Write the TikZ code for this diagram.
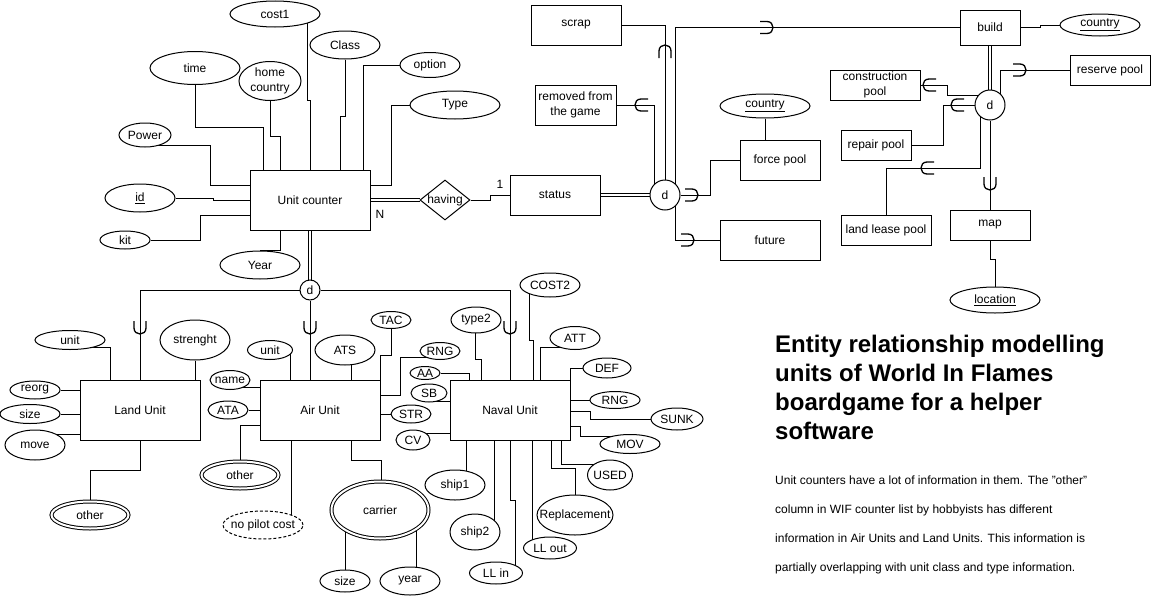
\documentclass[tikz,border=0pt]{standalone}
\usepackage{fontspec}
\setmainfont{Liberation Sans}
\usetikzlibrary{shapes.geometric}
\pgfdeclarelayer{bg}
\pgfsetlayers{bg,main}
\newcommand\lblfont{\fontsize{12}{14.5}\selectfont}
\newcommand\ttlfont{\fontsize{24}{29}\selectfont\bfseries}
\newcommand\bdyfont{\fontsize{12}{14}\selectfont}
\newcommand\attrnode[7][]{%
  \node[attr,#1,minimum width=#5pt,minimum height=#6pt] (#2) at (#3,#4) {};
  \node[lbl] (#2-t) at (#2.center) {#7};}
\newcommand\smark[3]{%
  \begin{scope}[shift={(#1,#2)},rotate=#3]
    \draw[line width=1.3pt] (-6,-7) -- (-6,0) .. controls (-6,8) and (6,8) .. (6,0) -- (6,-7);
  \end{scope}}
\begin{document}
\begin{tikzpicture}[x=1pt,y=-1pt,line width=1pt,
  lbl/.style={font=\lblfont,align=center,inner sep=0pt},
  ent/.style={draw,fill=white,rectangle,inner sep=0pt,font=\lblfont,align=center},
  attr/.style={draw,fill=white,ellipse,inner sep=0pt},
  dbl/.style={double,double distance=2.5pt,line width=1pt},
  dellipse/.style={double,double distance=2pt},
  dnode/.style={draw,fill=white,circle,inner sep=0pt,font=\lblfont}]
\useasboundingbox (0,0) rectangle (1151,597);

% ---------- entities ----------
\node[ent,minimum width=120pt,minimum height=60pt] (uc) at (310,200) {Unit counter};
\node[draw,fill=white,diamond,inner sep=0pt,minimum width=50pt,minimum height=40pt] (having) at (445,200) {};
\node[lbl] (having-t) at (having.center) {having};
\node[ent,minimum width=90pt,minimum height=40pt] (status) at (555,195) {status};
\node[dnode,minimum size=30pt] (d1) at (665,195) {d};
\node[ent,minimum width=90pt,minimum height=40pt] (scrap) at (576,25) {scrap};
\node[ent,minimum width=81pt,minimum height=40pt] (removed) at (575.5,105) {removed from\\the game};
\node[ent,minimum width=80pt,minimum height=40pt] (force) at (780,160) {force pool};
\node[ent,minimum width=100pt,minimum height=40pt] (future) at (770,240) {future};
\node[ent,minimum width=60pt,minimum height=35pt] (build) at (990,27.5) {build};
\node[dnode,minimum size=30pt] (d2) at (990,105) {d};
\node[ent,minimum width=80pt,minimum height=30pt] (reserve) at (1110,70) {reserve pool};
\node[ent,minimum width=90pt,minimum height=30pt] (construction) at (875,85) {construction\\pool};
\node[ent,minimum width=70pt,minimum height=30pt] (repair) at (876,145) {repair pool};
\node[ent,minimum width=90pt,minimum height=30pt] (landlease) at (886,230) {land lease pool};
\node[ent,minimum width=80pt,minimum height=30pt] (map) at (990,225) {map};
\node[dnode,minimum size=20pt] (d0) at (310,290) {d};
\node[ent,minimum width=120pt,minimum height=60pt] (land) at (140,410) {Land Unit};
\node[ent,minimum width=120pt,minimum height=60pt] (air) at (320,410) {Air Unit};
\node[ent,minimum width=120pt,minimum height=60pt] (naval) at (510,410) {Naval Unit};

% ---------- attributes ----------
\attrnode{cost1}{275}{14}{90}{26}{cost1}
\attrnode{class}{345}{45}{70}{28}{Class}
\attrnode{time}{195}{68}{90}{33}{time}
\attrnode{home}{270}{81}{62}{39}{home\\country}
\attrnode{option}{430}{65}{60}{25}{option}
\attrnode{type}{455}{105}{90}{28}{Type}
\attrnode{power}{145}{135}{52}{24}{Power}
\attrnode{id}{140}{198}{70}{28}{\underline{id}}
\attrnode{kit}{125}{240}{50}{18}{kit}
\attrnode{year}{260}{265}{80}{28}{Year}
\attrnode{country1}{765}{106}{90}{24}{\underline{country}}
\attrnode{country2}{1100}{25}{80}{22}{\underline{country}}
\attrnode{location}{995}{300}{90}{26}{\underline{location}}
% land
\attrnode{lunit}{70}{340}{70}{19}{unit}
\attrnode{strength}{195}{340}{70}{40}{strenght}
\attrnode{reorg}{35}{390}{50}{18}{reorg}
\attrnode{lsize}{30}{414}{60}{19}{size}
\attrnode{move}{35}{445}{60}{30}{move}
\attrnode[dellipse]{lother}{90}{515}{77}{27}{other}
% air
\attrnode{aunit}{270}{350}{45}{19}{unit}
\attrnode{name}{230}{380}{40}{19}{name}
\attrnode{ata}{228}{410}{40}{18}{ATA}
\attrnode[dellipse]{aother}{240}{475}{77}{27}{other}
\attrnode[dash pattern=on 3pt off 2pt]{nopilot}{263}{525}{80}{28}{no pilot cost}
\attrnode{ats}{345}{350}{60}{30}{ATS}
\attrnode{tac}{391}{320}{40}{17}{TAC}
\attrnode{arng}{440}{351}{40}{17}{RNG}
\attrnode{str}{411}{414}{40}{18}{STR}
\attrnode[dellipse]{carrier}{380}{510}{97}{57}{carrier}
\attrnode{csize}{345}{581}{50}{22}{size}
\attrnode{cyear}{410}{581}{60}{28}{year}
% naval
\attrnode{aa}{425}{373}{30}{13}{AA}
\attrnode{sb}{429}{393}{36}{18}{SB}
\attrnode{cv}{413}{440}{34}{20}{CV}
\attrnode{type2}{476}{320}{50}{26}{type2}
\attrnode{cost2}{550}{285}{60}{24}{COST2}
\attrnode{att}{575}{338}{50}{23}{ATT}
\attrnode{def}{607}{368}{48}{20}{DEF}
\attrnode{nrng}{615}{400}{50}{17}{RNG}
\attrnode{sunk}{677}{419}{52}{22}{SUNK}
\attrnode{mov}{630}{444}{60}{19}{MOV}
\attrnode{used}{610}{475}{45}{30}{USED}
\attrnode{repl}{575}{515}{76}{40}{Replacement}
\attrnode{llout}{550}{548}{53}{22}{LL out}
\attrnode{llin}{496}{573}{53}{22}{LL in}
\attrnode{ship2}{475}{532}{50}{36}{ship2}
\attrnode{ship1}{455}{485}{60}{30}{ship1}

% ---------- connectors ----------
\begin{pgfonlayer}{bg}
\fill[white] (0,0) rectangle (1151,597);
% unit counter attributes
\draw (cost1.center -| 307,0) -- (307,100) -| (uc.north -| 310,0);
\draw (class) -- (345,116) -| (uc.north -| 340,0);
\draw (time) -- (195,127) -| (uc.north -| 263,0);
\draw (home) -- (270,136) -| (uc.north -| 280,0);
\draw (option) -| (uc.north -| 363,0);
\draw (type) -- (391,105) |- (uc.east |- 0,185);
\draw (power.center |- 0,145) -- (210,145) |- (uc.west |- 0,185);
\draw (id) -- (213,198) |- (uc.west);
\draw (kit) -- (200,240) |- (uc.west |- 0,215);
\draw (uc.south -| 280,0) |- (year.north);
% relationship
\draw[dbl] (uc.east) -- (having.west);
\draw (having.east) -- (490,200) |- (status.west);
\draw[dbl] (status.east) -- (d1.west);
\draw (scrap.east) -| (d1.north);
\draw (removed.east) -| (d1.center -| 654,0);
\draw (d1.east) -- (710,195) |- (force.west);
\draw (country1) -- (force.north -| country1.center);
\draw (d1.center -| 675,0) |- (future.west);
\draw (d1.center -| 675,0) |- (build.west);
\draw (build.east) -- (1040,27.5) |- (country2.west);
\draw[dbl] (build.south) -- (d2.north);
\draw (d2.center -| 1000,0) |- (reserve.west);
\draw (construction.east) -- (947,85) |- (d2.center |- 0,95);
\draw (repair.east) -- (943,145) |- (d2.west);
\draw (landlease.north) |- (980,168) -- (d2.center -| 980,0);
\draw (d2.south) -- (map.north);
\draw (map.south) -- (990,259) -| (location.north);
% specialisation
\draw[dbl] (uc.south) -- (d0.north);
\draw (d0.west) -| (land.north);
\draw (d0.south) -- (air.north -| d0.south);
\draw (d0.east) -| (naval.north);
% land
\draw (lunit.center |- 0,347) -| (land.north -| 110,0);
\draw (strength) -- (land.north -| strength);
\draw (reorg) -- (land.west |- reorg);
\draw (lsize) -- (land.west |- lsize);
\draw (move.center |- 0,434) -- (land.west |- 0,434);
\draw (land.south) -- (140,470) -| (lother.north);
% air
\draw (aunit.center -| 290,0) -- (air.north -| 290,0);
\draw (name.center |- 0,387) -- (air.west |- 0,387);
\draw (ata) -- (air.west);
\draw (air.west |- 0,425) -| (aother.north);
\draw (air.south -| 291,0) -- (nopilot.center -| 291,0);
\draw (ats.center -| 351,0) -- (air.north -| 351,0);
\draw (tac) -- (391,355) -| (air.north east);
\draw (arng.center |- 0,357) -| (400,395) -- (air.east |- 0,395);
\draw (str) -- (air.east |- str);
\draw (air.south -| 351,0) |- (381,460) -- (carrier.north -| 381,0);
\draw (carrier.center -| 345,0) -- (csize);
\draw (carrier.center -| 416,0) -- (cyear.center -| 416,0);
% naval
\draw (aa) -| (naval.north -| 469,0);
\draw (sb.center |- 0,401) -- (naval.west |- 0,401);
\draw (cv.center |- 0,433) -- (naval.west |- 0,433);
\draw (type2.center -| 475.5,0) -- (475.5,359) -| (naval.north -| 481,0);
\draw (cost2.center -| 529,0) -- (529,340) -| (naval.north -| 533,0);
\draw (att.center |- 0,347) -| (naval.north -| 540,0);
\draw (def) -| (naval.north east);
\draw (nrng) -- (naval.east |- nrng);
\draw (naval.east |- 0,411) -| (590,419) -- (sunk);
\draw (naval.east |- 0,426) -| (580,436) -- (mov.center |- 0,436);
\draw (naval.south -| 561,0) |- (used.center |- 0,464);
\draw (naval.south -| 551,0) |- (575,468) -- (repl);
\draw (naval.south -| 532,0) -- (llout.center -| 532,0);
\draw (naval.south) -- (510,500) -| (llin.center -| 515,0);
\draw (naval.south -| 494,0) -- (ship2.center -| 494,0);
\draw (naval.south -| 466,0) -- (ship1.center -| 466,0);
\end{pgfonlayer}

% ---------- subset marks ----------
\smark{665}{51}{180}
\smark{641}{105}{-90}
\smark{692}{195}{90}
\smark{688}{240}{90}
\smark{767}{27.5}{90}
\smark{1020}{70}{90}
\smark{929}{85}{-90}
\smark{957}{105}{-90}
\smark{927}{168}{-90}
\smark{990}{184}{0}
\smark{140}{328}{0}
\smark{310}{328}{0}
\smark{510}{328}{0}

% ---------- cardinalities ----------
\node[lbl] (cardN) at (380,214) {N};
\node[lbl] (card1) at (500,184) {1};

% ---------- text ----------
\node[anchor=base west,inner sep=0pt,font=\ttlfont] (t1) at (775,352) {Entity relationship modelling};
\node[anchor=base west,inner sep=0pt,font=\ttlfont] (t2) at (775,381) {units of World In Flames};
\node[anchor=base west,inner sep=0pt,font=\ttlfont] (t3) at (775,410) {boardgame for a helper};
\node[anchor=base west,inner sep=0pt,font=\ttlfont] (t4) at (775,439) {software};
\node[anchor=base west,inner sep=0pt,font=\bdyfont] (b1) at (775,484) {Unit counters have a lot of information in them. The "other"};
\node[anchor=base west,inner sep=0pt,font=\bdyfont] (b2) at (775,513) {column in WIF counter list by hobbyists has different};
\node[anchor=base west,inner sep=0pt,font=\bdyfont] (b3) at (775,542) {information in Air Units and Land Units. This information is};
\node[anchor=base west,inner sep=0pt,font=\bdyfont] (b4) at (775,571) {partially overlapping with unit class and type information.};
\end{tikzpicture}
\end{document}
